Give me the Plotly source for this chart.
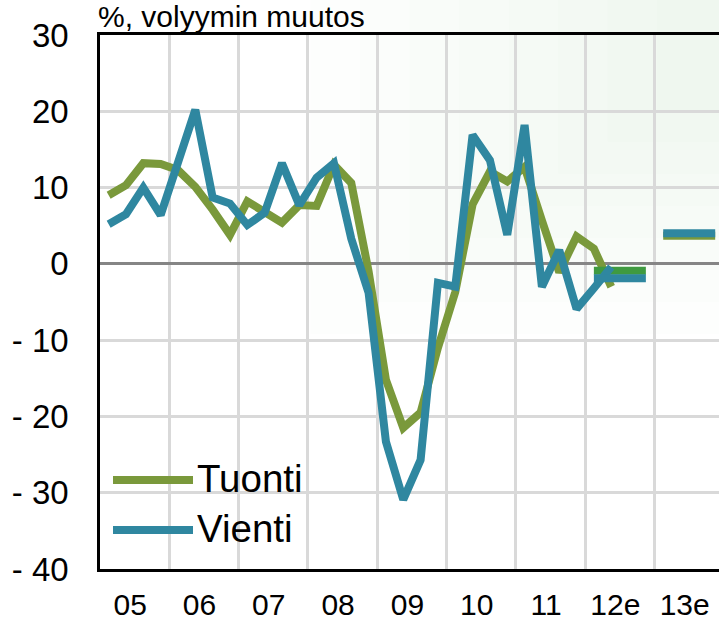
import plotly.graph_objects as go

# ---- data ----
years = ["05", "06", "07", "08", "09", "10", "11", "12e", "13e"]
quarters = ["%s Q%d" % (y, q) for y in ["05", "06", "07", "08", "09", "10", "11", "12"] for q in (1, 2, 3, 4)][:30]

tuonti = [9.0, 10.3, 13.2, 13.1,
          12.3, 10.1, 7.1, 3.8,
          8.2, 6.9, 5.4, 7.7,
          7.6, 13.0, 10.6, -1.0,
          -15.2, -21.5, -19.5, -11.0,
          -3.7, 7.8, 12.1, 10.8,
          12.7, 5.7, -1.1, 3.6,
          2.0, -3.0]
vienti = [5.2, 6.5, 10.0, 6.4,
          13.3, 20.2, 8.7, 7.9,
          5.1, 6.7, 13.2, 7.7,
          11.3, 13.2, 3.3, -3.8,
          -23.3, -30.9, -25.7, -2.5,
          -3.0, 16.9, 13.6, 3.8,
          18.2, -3.0, 1.8, -5.9,
          -3.2, -0.4]

# annual forecasts (e = estimate)
est_years = ["12e", "13e"]
tuonti_est = [-0.9, 3.7]
vienti_est = [-1.9, 4.0]

ytickvals = [30, 20, 10, 0, -10, -20, -30, -40]
yticktext = ["30", "20", "10", "0", "- 10", "- 20", "- 30", "- 40"]

# ---- styling ----
C_TUONTI = "#7a993b"
C_TUONTI_EST = "#3f9a40"
C_VIENTI = "#2f87a0"
FONT = "Liberation Sans, Arial, sans-serif"
LW = 8

# quarter positions: 4 units per year, quarter centres at +0.5
qx = [i + 0.5 for i in range(len(quarters))]


def year_span(label):
    i = years.index(label)
    return [4 * i + 0.5, 4 * i + 3.5]


fig = go.Figure()

fig.add_trace(go.Scatter(x=qx, y=tuonti, mode="lines", name="Tuonti",
                         line=dict(color=C_TUONTI, width=LW), showlegend=False))
for yl, v in zip(est_years, tuonti_est):
    fig.add_trace(go.Scatter(x=year_span(yl), y=[v, v], mode="lines",
                             line=dict(color=C_TUONTI_EST if yl == "12e" else C_TUONTI, width=LW),
                             showlegend=False))
fig.add_trace(go.Scatter(x=qx, y=vienti, mode="lines", name="Vienti",
                         line=dict(color=C_VIENTI, width=LW), showlegend=False))
for yl, v in zip(est_years, vienti_est):
    fig.add_trace(go.Scatter(x=year_span(yl), y=[v, v], mode="lines",
                             line=dict(color=C_VIENTI, width=LW), showlegend=False))

# faint background tint (upper right), layered for a soft gradient
shapes = []
steps = [(0.34, 0.44), (0.42, 0.50), (0.50, 0.56), (0.58, 0.62), (0.66, 0.68),
         (0.74, 0.74), (0.82, 0.80), (0.90, 0.86)]
for x0, y0 in steps:
    shapes.append(dict(type="rect", xref="paper", yref="paper", x0=x0, x1=1.02,
                       y0=y0, y1=1.08, fillcolor="#dfeadb", opacity=0.06,
                       line=dict(width=0), layer="below"))

# manual legend (long line samples)
def px2x(px):
    return (px - 100) / 619.0


def py2y(py):
    return (569 - py) / 534.0


for name, col, py in [("Tuonti", C_TUONTI, 480), ("Vienti", C_VIENTI, 530)]:
    shapes.append(dict(type="line", xref="paper", yref="paper",
                       x0=px2x(113), x1=px2x(193), y0=py2y(py), y1=py2y(py),
                       line=dict(color=col, width=8)))

annotations = [
    dict(text="%, volyymin muutos", xref="paper", yref="paper", x=px2x(96), y=1.0,
         xanchor="left", yanchor="bottom", showarrow=False,
         font=dict(family=FONT, size=30, color="black")),
    dict(text="Tuonti", xref="paper", yref="paper", x=px2x(195), y=py2y(478),
         xanchor="left", yanchor="middle", showarrow=False,
         font=dict(family=FONT, size=38.5, color="black")),
    dict(text="Vienti", xref="paper", yref="paper", x=px2x(195), y=py2y(528),
         xanchor="left", yanchor="middle", showarrow=False,
         font=dict(family=FONT, size=38.5, color="black")),
]

fig.update_layout(
    width=719, height=622,
    margin=dict(l=100, r=0, t=35, b=53, pad=0, autoexpand=False),
    paper_bgcolor="white", plot_bgcolor="rgba(0,0,0,0)",
    font=dict(family=FONT, size=31, color="black"),
    showlegend=False,
    shapes=shapes,
    annotations=annotations,
    xaxis=dict(range=[0, 35.72], tickmode="array",
               tickvals=[4 * i + 2 - 0.26 for i in range(len(years))], ticktext=years,
               showgrid=False, zeroline=False, ticks="", automargin=False,
               showline=True, linecolor="black", linewidth=2.5, mirror=True,
               ticklabelstandoff=7,
               minor=dict(tick0=0, dtick=4, showgrid=True, gridcolor="#d9d9d9", gridwidth=2.5, ticks=""),
               tickfont=dict(size=30)),
    yaxis=dict(range=[-40, 30], tickmode="array", tickvals=ytickvals, ticktext=yticktext,
               showgrid=True, gridcolor="#d9d9d9", gridwidth=2.5, automargin=False,
               zeroline=True, zerolinecolor="#858585", zerolinewidth=2.5,
               showline=True, linecolor="black", linewidth=2.5, ticks="",
               ticklabelstandoff=22, tickfont=dict(size=33)),
)

fig.write_html("out.html", config={"displayModeBar": False},
               post_script="document.body.style.margin='0';document.body.style.overflow='hidden';")
